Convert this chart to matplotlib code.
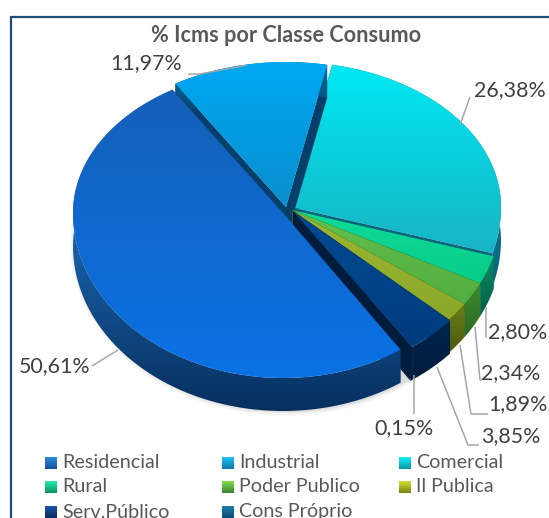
import numpy as np
import matplotlib
matplotlib.use("Agg")
import matplotlib.pyplot as plt
from matplotlib.colors import LinearSegmentedColormap
from matplotlib.patches import Polygon, Ellipse

plt.rcParams['font.family'] = ['Lato', 'DejaVu Sans']

# chart values
categories = ["Residencial", "Industrial", "Comercial", "Rural", "Poder Publico", "Il Publica", "Serv.Público", "Cons Próprio"]
values = [50.61, 11.97, 26.38, 2.80, 2.34, 1.89, 3.85, 0.15]
value_labels = ["50,61%", "11,97%", "26,38%", "2,80%", "2,34%", "1,89%", "3,85%", "0,15%"]
title = "% Icms por Classe Consumo"

# colours: top face (upper, lower), wall (upper, lower), legend (upper, lower)
top_colors = ["#1560b8", "#00a8f2", "#00e8f2", "#0cdc98", "#62c04c", "#9cb832", "#004a94", "#0a6a9a"]
top_colors2 = ["#0a72e6", "#0a8fd0", "#18b4c4", "#08cc88", "#52ae40", "#8aa82a", "#003c7c", "#0a5a86"]
wall_colors = ["#2a8ae8", "#0a6fa8", "#0a8ea8", "#0a8a66", "#3c8a30", "#6a7d18", "#00264e", "#003a56"]
wall_colors2 = ["#07305f", "#06406a", "#0a6680", "#066048", "#2c6a22", "#4c5a10", "#001c3c", "#002a40"]
legend_colors = ["#2f8ae0", "#20c4f8", "#10f0f8", "#20f0b0", "#80e050", "#d0e030", "#1a56a8", "#1a80b0"]
legend_colors2 = ["#14509a", "#0a78a8", "#0a98a8", "#0a9068", "#3c8030", "#7c8418", "#0a2c60", "#0a4c70"]

# slice centres in pixels (exploded a bit)
centers = [(283, 213), (286, 207), (291, 207), (292, 210), (292, 210), (292, 210), (293, 211), (293, 211)]
start_angle = -56.0
rx = 210
ry_up = 145
ry_down = 165
depth = 33
draw_order = [2, 1, 3, 4, 5, 7, 6, 0]


def slice_angles():
    angles = []
    a = start_angle
    total = sum(values)
    for v in values:
        b = a - v / total * 360
        angles.append((a, b))
        a = b
    return angles


def rim(cx, cy, a, b):
    """points along the rim of the pie, flatter going up than down (fake perspective)"""
    n = max(int(abs(b - a)), 2) + 1
    t = np.radians(np.linspace(a, b, n))
    s = np.sin(t)
    y = np.where(s > 0, cy - ry_up * s, cy - ry_down * s)
    return np.column_stack([cx + rx * np.cos(t), y])


def grad_poly(ax, pts, c1, c2, z):
    """polygon filled with a vertical gradient"""
    pts = np.asarray(pts)
    cmap = LinearSegmentedColormap.from_list("g", [c1, c2])
    x0, x1 = pts[:, 0].min(), pts[:, 0].max()
    y0, y1 = pts[:, 1].min(), pts[:, 1].max()
    im = ax.imshow(np.linspace(0, 1, 64).reshape(-1, 1), cmap=cmap, aspect="auto",
                   extent=(x0, x1, y1, y0), zorder=z, interpolation="bilinear")
    patch = Polygon(pts, closed=True, transform=ax.transData, facecolor="none", edgecolor="none")
    ax.add_patch(patch)
    im.set_clip_path(patch)


fig = plt.figure(figsize=(5.49, 5.18), dpi=100)
ax = fig.add_axes([0, 0, 1, 1])
ax.axis("off")

# chart frame
ax.add_patch(plt.Rectangle((11, 16.5), 600, 600, facecolor="white", edgecolor="#1f4e79", linewidth=1.6, zorder=0))

# soft shadow under the pie
for grow, alpha in [(10, 0.03), (7, 0.04), (4, 0.05), (2, 0.07)]:
    ax.add_patch(Ellipse((285, 245), 2 * rx + grow, 2 * 166 + grow, facecolor="#404040", edgecolor="none", alpha=alpha, zorder=1))

z = 2
angles = slice_angles()
for i in draw_order:
    a, b = angles[i]
    cx, cy = centers[i]
    arc = rim(cx, cy, a, b)
    apex = np.array([[cx, cy]])
    down = np.array([0, depth])
    # the two cut faces
    grad_poly(ax, [apex[0], arc[0], arc[0] + down, apex[0] + down], wall_colors2[i], wall_colors2[i], z)
    grad_poly(ax, [apex[0], arc[-1], arc[-1] + down, apex[0] + down], wall_colors2[i], wall_colors2[i], z + 0.1)
    # outer wall
    wall = np.vstack([arc, (arc + down)[::-1]])
    grad_poly(ax, wall, wall_colors[i], wall_colors2[i], z + 0.2)
    # top face
    grad_poly(ax, np.vstack([apex, arc]), top_colors[i], top_colors2[i], z + 0.3)
    z += 1

ax.set_xlim(0, 549)
ax.set_ylim(518, 0)

ax.text(286, 35, title, fontsize=15.6, fontweight="bold", color="#595959", ha="center", va="center", zorder=30)

# data labels and leader lines
label_pos = [(55, 366), (146, 63), (510, 90), (518, 332), (511, 373), (518, 404), (511, 436), (404, 428)]
leaders = [
    [(92, 366), (118, 350)],
    [(188, 74), (200, 74), (247, 65)],
    [(470, 97), (460, 125)],
    [(486, 307), (486, 338)],
    [(475, 327), (480, 380), (482, 380)],
    [(460, 345), (471, 414), (488, 414)],
    [(437, 367), (468, 445), (479, 445)],
    [(414, 375), (414, 414)],
]
for i in range(len(values)):
    ax.text(label_pos[i][0], label_pos[i][1], value_labels[i], fontsize=15.4, color="#404040", ha="center", va="center", zorder=30)
    xs = [p[0] for p in leaders[i]]
    ys = [p[1] for p in leaders[i]]
    ax.plot(xs, ys, color="#a6a6a6", linewidth=1.1, zorder=29, solid_capstyle="butt")

# legend, last row is cut off by the edge of the picture
col_x = [45, 222, 399]
row_y = [463, 487, 512]
for i in range(len(categories)):
    x = col_x[i % 3]
    y = row_y[i // 3]
    s = 6
    grad_poly(ax, [(x, y - s), (x + 12, y - s), (x + 12, y + s), (x, y + s)], legend_colors[i], legend_colors2[i], 31)
    ax.text(x + 17, y, categories[i], fontsize=14.2, color="#595959", ha="left", va="center", zorder=30)

ax.set_xlim(0, 549)
ax.set_ylim(518, 0)

fig.savefig("out.png", dpi=100)
